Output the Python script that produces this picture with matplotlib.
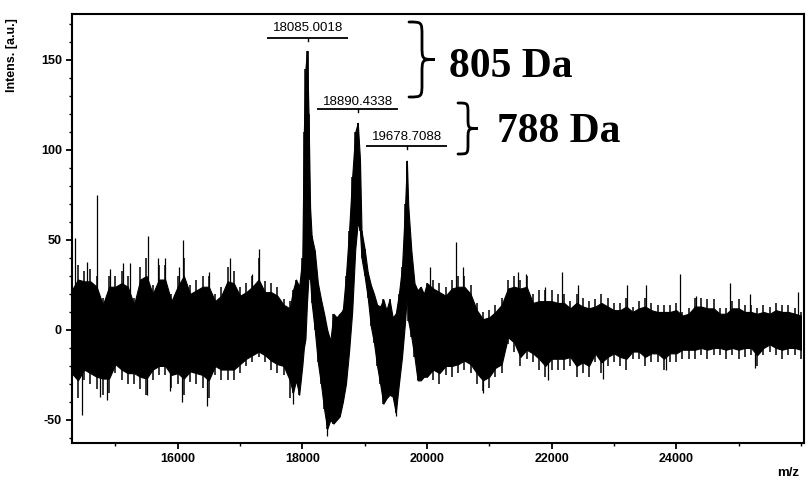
import numpy as np
import matplotlib
matplotlib.use("Agg")
import matplotlib.pyplot as plt
from matplotlib.path import Path
from matplotlib.patches import PathPatch

# ---------------- data ----------------
# region A: noise before the peaks (outer spike extent + solid core)
mz_a = [14300, 14400, 14500, 14600, 14700, 14800, 14900, 15000, 15100, 15200,
        15300, 15400, 15500, 15600, 15700, 15800, 15900, 16000, 16100, 16200,
        16300, 16400, 16500, 16600, 16700, 16800, 16900, 17000, 17100, 17200,
        17300, 17400, 17500, 17600, 17700, 17800]
hi_a = [26, 36, 33, 34, 30, 18, 30, 30, 33, 30,
        18, 35, 40, 25, 36, 36, 20, 30, 40, 25,
        28, 30, 30, 20, 24, 35, 33, 24, 26, 30,
        40, 27, 26, 24, 17, 16]
lo_a = [-30, -38, -28, -30, -33, -36, -35, -24, -28, -30,
        -30, -33, -36, -28, -25, -25, -32, -30, -36, -29,
        -30, -32, -38, -25, -28, -28, -28, -24, -20, -18,
        -15, -18, -22, -24, -25, -38]
core_hi_a = [22, 28, 27, 27, 24, 14, 24, 24, 26, 24,
             14, 28, 30, 20, 28, 28, 16, 24, 30, 20,
             22, 24, 24, 16, 19, 27, 26, 19, 21, 24,
             28, 21, 21, 19, 14, 12]
core_lo_a = [-24, -28, -22, -24, -26, -27, -27, -19, -22, -24,
             -24, -26, -27, -22, -20, -20, -25, -24, -27, -23,
             -24, -25, -28, -20, -22, -22, -22, -19, -16, -14,
             -12, -14, -17, -19, -20, -28]

# region B: the three protein peaks
mz_b = [17850, 17900, 17950, 18000, 18025, 18050, 18075, 18100, 18125, 18150,
        18200, 18250, 18300, 18350, 18400, 18450, 18500, 18550, 18600, 18650,
        18700, 18750, 18800, 18850, 18890, 18925, 18950, 19000, 19050, 19100,
        19150, 19200, 19250, 19300, 19350, 19400, 19450, 19500, 19550, 19600,
        19650, 19678, 19700, 19750, 19800, 19850, 19900, 19950, 20000]
hi_b = [22, 28, 24, 40, 110, 145, 155, 120, 68, 52,
        44, 26, 17, 9, 0, -6, 9, 7, 9, 11,
        30, 55, 85, 110, 115, 95, 55, 45, 32, 25,
        20, 14, 13, 17, 11, 17, 7, 9, 20, 35,
        70, 94, 69, 44, 26, 22, 24, 20, 26]
lo_b = [-35, -28, -36, -20, -10, -5, 15, 30, 28, 15,
        0, -18, -30, -44, -55, -50, -52, -50, -48, -40,
        -30, -12, 10, 45, 60, 55, 40, 30, 18, 2,
        -7, -20, -30, -41, -38, -36, -37, -46, -30, -15,
        5, 20, 5, -4, -15, -28, -28, -26, -26]

# region C: noise after the peaks
mz_c = [20100, 20200, 20300, 20400, 20500, 20600, 20700, 20800, 20900, 21000,
        21100, 21200, 21300, 21400, 21500, 21600, 21700, 21800, 21900, 22000,
        22100, 22200, 22300, 22400, 22500, 22600, 22700, 22800, 22900, 23000,
        23100, 23200, 23300, 23400, 23500, 23600, 23700, 23800, 23900, 24000,
        24100, 24200, 24300, 24400, 24500, 24600, 24700, 24800, 24900, 25000,
        25100, 25200, 25300, 25400, 25500, 25600, 25700, 25800, 25900, 26000]
hi_c = [28, 26, 24, 28, 30, 30, 25, 15, 10, 11,
        14, 18, 28, 30, 28, 30, 20, 22, 22, 22,
        20, 20, 16, 20, 18, 16, 17, 20, 18, 15,
        15, 18, 13, 16, 18, 15, 14, 14, 14, 15,
        10, 12, 18, 18, 17, 17, 12, 12, 16, 17,
        14, 14, 12, 14, 13, 15, 14, 14, 12, 10]
lo_c = [-28, -30, -25, -26, -24, -22, -24, -30, -34, -32,
        -26, -24, -8, -12, -20, -16, -18, -22, -26, -22,
        -22, -22, -20, -26, -24, -26, -18, -24, -20, -18,
        -20, -22, -16, -16, -20, -18, -18, -22, -18, -18,
        -16, -16, -16, -14, -16, -14, -14, -16, -14, -16,
        -15, -14, -20, -14, -12, -14, -16, -14, -14, -16]
core_hi_c = [23, 21, 19, 23, 24, 24, 20, 11, 6, 7,
             10, 14, 23, 24, 23, 24, 15, 16, 16, 16,
             15, 15, 12, 15, 13, 12, 13, 15, 13, 11,
             11, 13, 10, 12, 13, 11, 10, 10, 10, 11,
             8, 9, 13, 13, 12, 12, 9, 9, 12, 12,
             10, 10, 9, 10, 9, 11, 10, 10, 9, 8]
core_lo_c = [-22, -24, -20, -20, -19, -17, -19, -24, -28, -26,
             -21, -19, -4, -7, -15, -11, -13, -16, -20, -16,
             -16, -16, -15, -20, -18, -20, -13, -18, -15, -13,
             -15, -16, -12, -12, -15, -13, -13, -16, -13, -13,
             -11, -11, -11, -10, -11, -10, -10, -11, -10, -11,
             -10, -10, -14, -10, -8, -10, -11, -10, -10, -11]

spike_up_mz = [14353, 14551, 14701, 14915, 15129, 15236, 15530, 15691, 15798, 16028,
               16092, 16510, 16841, 17189, 17312, 17938,
               20046, 20460, 20582, 21464, 21597, 21891, 22169, 22426, 23212, 23522,
               24067, 24324, 24869, 25179, 25954]
spike_up_val = [51, 38, 75, 34, 37, 37, 52, 40, 40, 35,
                50, 32, 40, 31, 45, 26,
                35, 49, 35, 32, 31, 24, 32, 25, 25, 25,
                31, 19, 26, 20, 21]
spike_dn_mz = [14460, 14755, 14862, 15504, 15878, 16065, 16467, 17858, 18390, 19510,
               20902, 21945, 22827, 23843, 25260]
spike_dn_val = [-47, -37, -39, -36, -34, -40, -42, -41, -59, -48,
                -35, -28, -27, -22, -21]

peak_mz = [18085.0018, 18890.4338, 19678.7088]
peak_top = [155, 115, 94]
peak_labels = ["18085.0018", "18890.4338", "19678.7088"]
diff_labels = ["805 Da", "788 Da"]

x_ticks = [16000, 18000, 20000, 22000, 24000]
x_tick_labels = ["16000", "18000", "20000", "22000", "24000"]
y_ticks = [-50, 0, 50, 100, 150]
y_tick_labels = ["-50", "0", "50", "100", "150"]

# ---------------- figure ----------------
W, H = 811, 486
fig = plt.figure(figsize=(W / 100, H / 100), dpi=100)
ax = fig.add_axes([71.7 / W, 1 - 443 / H, (804 - 71.7) / W, (443 - 14) / H])

mz = np.array(mz_a + mz_b + mz_c, dtype=float)
core_hi = np.array(core_hi_a + hi_b + core_hi_c, dtype=float)
core_lo = np.array(core_lo_a + lo_b + core_lo_c, dtype=float)

# solid core of the trace
ax.fill_between(mz, core_lo, core_hi, facecolor="black", edgecolor="black", lw=0.8)
# outer noise teeth
ax.vlines(mz_a + mz_c, lo_a + lo_c, hi_a + hi_c, color="black", lw=1.1)
ax.vlines(mz_b, lo_b, hi_b, color="black", lw=1.1)
# isolated tall spikes
ax.vlines(spike_up_mz, 0, spike_up_val, color="black", lw=0.9)
ax.vlines(spike_dn_mz, spike_dn_val, 0, color="black", lw=0.9)
ax.vlines(peak_mz, [v - 30 for v in peak_top], peak_top, color="black", lw=1.2)

ax.set_xlim(14300, 26050)
ax.set_ylim(-62.8, 175.5)

sans = "Liberation Sans"
ax.set_xticks(x_ticks)
ax.set_xticklabels(x_tick_labels, fontweight="bold", family=sans, fontsize=9)
ax.set_xticks(np.arange(15000, 26001, 1000), minor=True)
ax.set_yticks(y_ticks)
ax.set_yticklabels(y_tick_labels, fontweight="bold", family=sans, fontsize=9)
ax.set_yticks(np.arange(-60, 171, 10), minor=True)
ax.tick_params(which="major", direction="out", length=4.5, width=1.3, pad=2.5)
ax.tick_params(which="minor", direction="out", length=2.5, width=1.0)
for s in ax.spines.values():
    s.set_linewidth(1.5)

# peak annotations (positions in pixels converted to data)
def py2val(py):
    return (330 - py) / 1.8

label_py = [28, 102, 137]
line_py = [38, 109, 146]
half_w = 650
for m, lab, tpy, lpy in zip(peak_mz, peak_labels, label_py, line_py):
    ax.text(m, py2val(tpy), lab, ha="center", va="center", family=sans, fontsize=9.5)
    ax.plot([m - half_w, m + half_w], [py2val(lpy)] * 2, color="black", lw=1.3,
            solid_capstyle="butt")
    ax.plot([m, m], [py2val(lpy), py2val(lpy + 3)], color="black", lw=1.0)

# axis titles
fig.text(12 / W, 1 - 55 / H, "Intens. [a.u.]", rotation=90, ha="center", va="center",
         family=sans, fontweight="bold", fontsize=9)
fig.text(788 / W, 1 - 473 / H, "m/z", ha="center", va="center",
         family=sans, fontweight="bold", fontsize=9.5)

# braces
def brace(x0, x1, ytop, ybot, lw=2.0):
    xm = (x0 + x1) / 2
    ymid = (ytop + ybot) / 2
    r = (x1 - x0) / 2 * 1.1
    pts = [(x0, ytop), (xm, ytop), (xm, ytop), (xm, ytop + r),
           (xm, ymid - r),
           (xm, ymid), (xm, ymid), (x1, ymid),
           (xm, ymid), (xm, ymid), (xm, ymid + r),
           (xm, ybot - r),
           (xm, ybot), (xm, ybot), (x0, ybot)]
    codes = [Path.MOVETO, Path.CURVE4, Path.CURVE4, Path.CURVE4,
             Path.LINETO,
             Path.CURVE4, Path.CURVE4, Path.CURVE4,
             Path.CURVE4, Path.CURVE4, Path.CURVE4,
             Path.LINETO,
             Path.CURVE4, Path.CURVE4, Path.CURVE4]
    verts = [(x / W, 1 - y / H) for x, y in pts]
    patch = PathPatch(Path(verts, codes), transform=fig.transFigure, fill=False,
                      lw=lw, edgecolor="black", capstyle="round")
    fig.add_artist(patch)

brace(409, 435, 22, 97)
brace(458, 478, 103, 154)

serif = "Liberation Serif"
fig.text(449 / W, 1 - 77 / H, diff_labels[0], ha="left", va="baseline",
         family=serif, fontweight="bold", fontsize=30)
fig.text(497 / W, 1 - 142 / H, diff_labels[1], ha="left", va="baseline",
         family=serif, fontweight="bold", fontsize=30)

fig.savefig("out.png", dpi=100)
